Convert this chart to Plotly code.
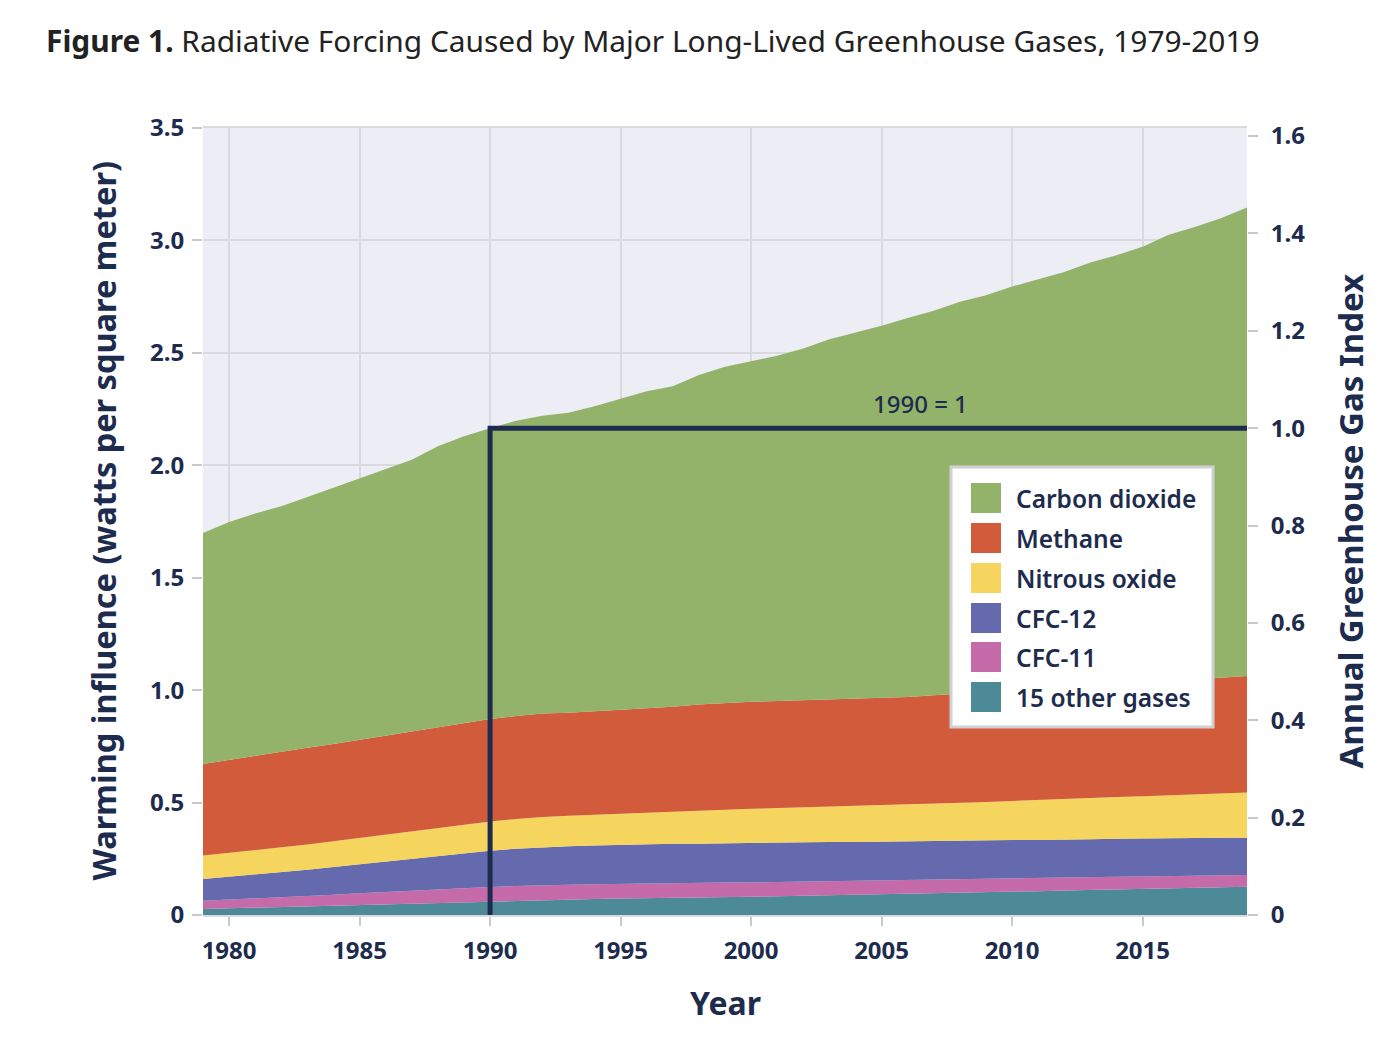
import plotly.graph_objects as go

years = list(range(1979, 2020))

other_gases = [0.027, 0.030, 0.033, 0.036, 0.039, 0.043, 0.047, 0.050, 0.053, 0.056,
               0.058, 0.060, 0.064, 0.067, 0.069, 0.071, 0.073, 0.074, 0.076, 0.077,
               0.079, 0.081, 0.083, 0.085, 0.087, 0.089, 0.091, 0.093, 0.096, 0.098,
               0.101, 0.104, 0.106, 0.109, 0.111, 0.114, 0.116, 0.118, 0.121, 0.123, 0.126]
cfc11 = [0.036, 0.038, 0.040, 0.042, 0.044, 0.047, 0.050, 0.053, 0.056, 0.059,
         0.062, 0.064, 0.065, 0.066, 0.066, 0.066, 0.066, 0.066, 0.066, 0.065,
         0.065, 0.064, 0.064, 0.063, 0.063, 0.062, 0.062, 0.061, 0.061, 0.060,
         0.060, 0.059, 0.058, 0.058, 0.057, 0.056, 0.055, 0.055, 0.054, 0.053, 0.052]
cfc12 = [0.097, 0.102, 0.107, 0.113, 0.118, 0.124, 0.129, 0.135, 0.141, 0.148,
         0.156, 0.162, 0.166, 0.169, 0.171, 0.172, 0.173, 0.174, 0.175, 0.175,
         0.175, 0.175, 0.175, 0.175, 0.175, 0.174, 0.174, 0.173, 0.173, 0.172,
         0.171, 0.171, 0.170, 0.170, 0.169, 0.169, 0.168, 0.168, 0.167, 0.167, 0.166]
nitrous_oxide = [0.105, 0.106, 0.108, 0.110, 0.112, 0.114, 0.116, 0.119, 0.121, 0.124,
                 0.127, 0.130, 0.132, 0.134, 0.135, 0.137, 0.139, 0.141, 0.143, 0.146,
                 0.149, 0.152, 0.154, 0.156, 0.158, 0.160, 0.162, 0.165, 0.167, 0.169,
                 0.171, 0.174, 0.177, 0.180, 0.183, 0.186, 0.189, 0.192, 0.195, 0.198, 0.201]
methane = [0.407, 0.414, 0.421, 0.428, 0.431, 0.432, 0.437, 0.441, 0.443, 0.448,
           0.452, 0.456, 0.458, 0.460, 0.459, 0.460, 0.462, 0.464, 0.466, 0.473,
           0.475, 0.476, 0.476, 0.476, 0.477, 0.479, 0.477, 0.478, 0.480, 0.486,
           0.488, 0.490, 0.494, 0.494, 0.498, 0.501, 0.505, 0.507, 0.510, 0.514, 0.518]
carbon_dioxide = [1.027, 1.058, 1.077, 1.089, 1.115, 1.140, 1.162, 1.184, 1.211, 1.250,
                  1.274, 1.293, 1.313, 1.324, 1.334, 1.356, 1.383, 1.410, 1.426, 1.465,
                  1.495, 1.513, 1.535, 1.564, 1.601, 1.627, 1.655, 1.685, 1.710, 1.742,
                  1.765, 1.797, 1.824, 1.849, 1.884, 1.908, 1.939, 1.985, 2.013, 2.044, 2.083]

series_names = ["15 other gases", "CFC-11", "CFC-12", "Nitrous oxide", "Methane", "Carbon dioxide"]
series_values = [other_gases, cfc11, cfc12, nitrous_oxide, methane, carbon_dioxide]
series_colors = ["#4B8A96", "#C56BAA", "#646AAD", "#F6D55F", "#D15B3A", "#94B36A"]

base_year = 1990
x_ticks = [1980, 1985, 1990, 1995, 2000, 2005, 2010, 2015]
y_ticks = [0, 0.5, 1.0, 1.5, 2.0, 2.5, 3.0, 3.5]
y_ticktext = ["0", "0.5", "1.0", "1.5", "2.0", "2.5", "3.0", "3.5"]
y2_ticks = [0, 0.2, 0.4, 0.6, 0.8, 1.0, 1.2, 1.4, 1.6]
y2_ticktext = ["0", "0.2", "0.4", "0.6", "0.8", "1.0", "1.2", "1.4", "1.6"]

NAVY = "#1D2C4E"
GRID = "#D9D9DF"
FONT = "Noto Sans"

fig = go.Figure()
for name, vals, col in zip(series_names, series_values, series_colors):
    fig.add_trace(go.Scatter(
        x=years, y=vals, name=name, stackgroup="one", mode="lines",
        line=dict(width=0, color=col), fillcolor=col, showlegend=False,
        hoverinfo="skip"))

bi = years.index(base_year)
base_total = sum(v[bi] for v in series_values)
y_max = 3.5

fig.add_trace(go.Scatter(
    x=[base_year, base_year, years[-1]], y=[0, 1, 1], mode="lines",
    line=dict(color=NAVY, width=5), yaxis="y2", showlegend=False, hoverinfo="skip"))

fig.update_layout(
    width=1393, height=1058,
    margin=dict(l=203, r=146, t=128, b=143),
    paper_bgcolor="white", plot_bgcolor="#EDEDF5",
    font=dict(family=FONT, color=NAVY),
    title=dict(
        text="<b>Figure 1.</b> Radiative Forcing Caused by Major Long-Lived Greenhouse Gases, 1979-2019",
        x=46 / 1393, xanchor="left", y=1 - 42 / 1058, yanchor="middle",
        font=dict(family=FONT, size=29.9, color="#222222")),
    xaxis=dict(
        range=[years[0], years[-1]], tickvals=x_ticks,
        showgrid=True, gridcolor=GRID, gridwidth=2,
        showline=True, linecolor=GRID, linewidth=2, mirror=True,
        ticks="outside", ticklen=9, tickcolor="#C8C8CE", tickwidth=2,
        ticklabelstandoff=4,
        tickfont=dict(family=FONT, size=24, color=NAVY, weight="bold"),
        zeroline=False),
    yaxis=dict(
        range=[0, y_max], tickvals=y_ticks, ticktext=y_ticktext,
        showgrid=True, gridcolor=GRID, gridwidth=2,
        ticks="outside", ticklen=10, tickcolor="#C8C8CE", tickwidth=2,
        ticklabelstandoff=3,
        tickfont=dict(family=FONT, size=24, color=NAVY, weight="bold"),
        zeroline=False),
    yaxis2=dict(
        range=[0, y_max / base_total], tickvals=y2_ticks, ticktext=y2_ticktext,
        overlaying="y", side="right", showgrid=False,
        ticks="outside", ticklen=10, tickcolor="#C8C8CE", tickwidth=2,
        ticklabelstandoff=8,
        tickfont=dict(family=FONT, size=24, color=NAVY, weight="bold"),
        zeroline=False),
    showlegend=False,
)

annotations = [
    dict(text="Warming influence (watts per square meter)", xref="paper", yref="paper",
         x=(103 - 203) / 1044, y=0.5, textangle=-90, showarrow=False,
         xanchor="center", yanchor="middle",
         font=dict(family=FONT, size=32.5, color=NAVY, weight="bold")),
    dict(text="Annual Greenhouse Gas Index", xref="paper", yref="paper",
         x=(1350 - 203) / 1044, y=0.5, textangle=-90, showarrow=False,
         xanchor="center", yanchor="middle",
         font=dict(family=FONT, size=33, color=NAVY, weight="bold")),
    dict(text="Year", xref="paper", yref="paper", x=0.5, y=(915 - 1002) / 787,
         showarrow=False, xanchor="center", yanchor="middle",
         font=dict(family=FONT, size=32, color=NAVY, weight="bold")),
    dict(text="1990 = 1", xref="x", yref="y2", x=2006.5, y=1, yshift=6,
         showarrow=False, xanchor="center", yanchor="bottom",
         font=dict(family=FONT, size=24, color=NAVY, weight=500)),
]

# Legend (drawn manually to get large square swatches)
def px_x(px):
    return (px - 203) / 1044

def px_y(py):
    return (915 - py) / 787

shapes = [dict(type="rect", xref="paper", yref="paper",
               x0=px_x(951), x1=px_x(1213), y0=px_y(727), y1=px_y(467),
               fillcolor="white", line=dict(color="#CFCFD4", width=3), layer="above")]
legend_order = list(reversed(range(len(series_names))))
row_y = [498, 538, 578, 618, 657, 697]
for row, idx in enumerate(legend_order):
    cy = row_y[row]
    shapes.append(dict(type="rect", xref="paper", yref="paper",
                       x0=px_x(971), x1=px_x(1001), y0=px_y(cy + 15), y1=px_y(cy - 15),
                       fillcolor=series_colors[idx], line=dict(width=0), layer="above"))
    annotations.append(dict(text=series_names[idx], xref="paper", yref="paper",
                            x=px_x(1014), y=px_y(cy), xanchor="left", yanchor="middle",
                            showarrow=False,
                            font=dict(family=FONT, size=24.5, color=NAVY, weight=600)))

fig.update_layout(annotations=annotations, shapes=shapes)
fig.write_html("out.html")
